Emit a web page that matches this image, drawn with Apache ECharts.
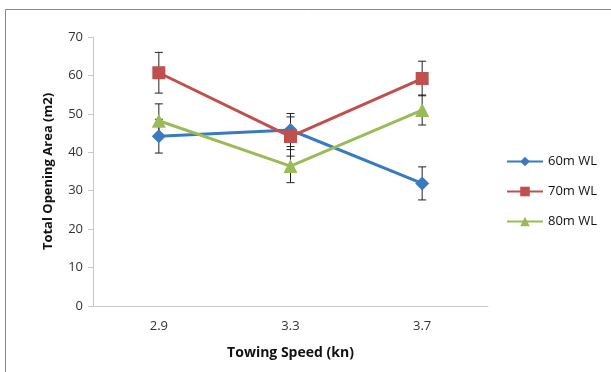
<!DOCTYPE html>
<html><head><meta charset="utf-8">
<script src="https://cdn.jsdelivr.net/npm/echarts@6/dist/echarts.min.js"></script>
<style>html,body{margin:0;padding:0;background:#fff}#c{width:611px;height:372px}</style>
</head><body><div id="c"></div>
<script>
const categories = ['2.9', '3.3', '3.7'];
const seriesNames = ['60m WL', '70m WL', '80m WL'];
const v60 = [44.2, 45.8, 31.9];
const v70 = [60.7, 44.1, 59.2];
const v80 = [48.2, 36.4, 51.0];
const e60 = [4.4, 4.3, 4.3];
const e70 = [5.3, 5.1, 4.5];
const e80 = [4.4, 4.3, 3.9];
const yTicks = [0, 10, 20, 30, 40, 50, 60, 70];

const colors = ['#3a7bbf', '#c0504d', '#9bbb59'];
const symbols = ['diamond', 'rect', 'triangle'];
const font = 'Open Sans, Liberation Sans, sans-serif';

function errSeries(vals, errs) {
  return {
    type: 'custom',
    z: 5,
    silent: true,
    data: vals.map((v, i) => [i, v - errs[i], v + errs[i]]),
    renderItem: function (params, api) {
      const lo = api.coord([api.value(0), api.value(1)]);
      const hi = api.coord([api.value(0), api.value(2)]);
      const w = 4;
      const st = { stroke: '#222', lineWidth: 1 };
      return { type: 'group', children: [
        { type: 'line', shape: { x1: hi[0], y1: hi[1], x2: lo[0], y2: lo[1] }, style: st },
        { type: 'line', shape: { x1: hi[0]-w, y1: hi[1], x2: hi[0]+w, y2: hi[1] }, style: st },
        { type: 'line', shape: { x1: lo[0]-w, y1: lo[1], x2: lo[0]+w, y2: lo[1] }, style: st }
      ]};
    }
  };
}

const vals = [v60, v70, v80];
const errs = [e60, e70, e80];
const series = [];
vals.forEach((v, k) => series.push(errSeries(v, errs[k])));
vals.forEach((v, k) => series.push({
  name: seriesNames[k], type: 'line', data: v, z: 10,
  symbol: symbols[k], symbolSize: k === 1 ? 13 : 14,
  lineStyle: { color: colors[k], width: 3 },
  itemStyle: { color: colors[k] },
  animation: false
}));

const chart = echarts.init(document.getElementById('c'));
chart.setOption({
  animation: false,
  textStyle: { fontFamily: font },
  grid: { left: 93, right: 123, top: 37, bottom: 66 },
  xAxis: {
    type: 'category', data: categories, boundaryGap: true,
    name: 'Towing Speed (kn)', nameLocation: 'middle', nameGap: 40,
    nameTextStyle: { fontWeight: 'bold', fontSize: 14, color: '#111', fontFamily: font },
    axisLine: { lineStyle: { color: '#c8c8c8' } },
    axisTick: { show: false },
    axisLabel: { color: '#333', fontSize: 13, margin: 14, fontFamily: font }
  },
  yAxis: {
    type: 'value', min: yTicks[0], max: yTicks[yTicks.length-1], interval: 10,
    name: 'Total Opening Area (m2)', nameLocation: 'middle', nameGap: 38, nameRotate: 90,
    nameTextStyle: { fontWeight: 'bold', fontSize: 13, color: '#111', fontFamily: font },
    axisLine: { show: true, lineStyle: { color: '#c8c8c8' } },
    axisTick: { show: true, inside: false, length: 5, lineStyle: { color: '#c8c8c8' } },
    splitLine: { show: false },
    axisLabel: { color: '#333', fontSize: 13, margin: 10, fontFamily: font }
  },
  legend: {
    orient: 'vertical', left: 501, top: 150, itemGap: 17,
    itemWidth: 36, itemHeight: 12,
    textStyle: { fontSize: 13, color: '#111', fontFamily: font },
    data: seriesNames
  },
  graphic: [
    { type: 'line', shape: { x1: 5.5, y1: 9.5, x2: 611, y2: 9.5 }, style: { stroke: '#888', lineWidth: 1 } },
    { type: 'line', shape: { x1: 5.5, y1: 9.5, x2: 5.5, y2: 372 }, style: { stroke: '#888', lineWidth: 1 } }
  ],
  series: series
});
</script></body></html>
